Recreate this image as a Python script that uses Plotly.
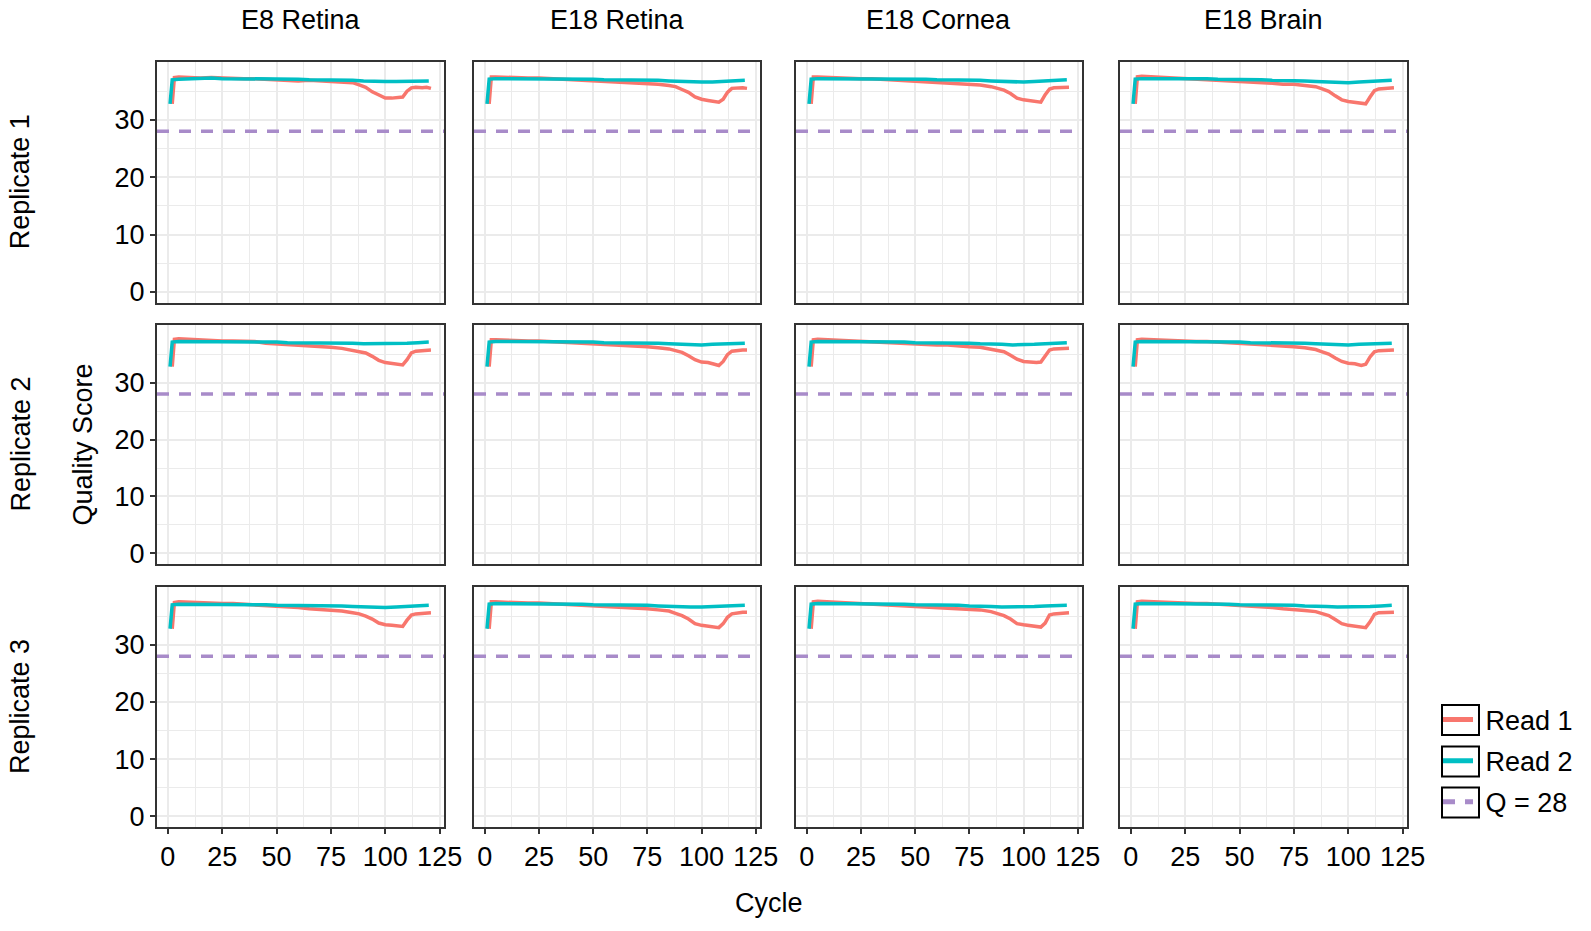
import plotly.graph_objects as go

# ---------------- data ----------------
COLUMNS = ["E8 Retina", "E18 Retina", "E18 Cornea", "E18 Brain"]
ROWS = ["Replicate 1", "Replicate 2", "Replicate 3"]
SERIES = ["Read 1", "Read 2", "Q = 28"]
Q_THRESHOLD = 28
X_TICKS = [0, 25, 50, 75, 100, 125]
Y_TICKS = [0, 10, 20, 30]

READ1_CYCLES = [2, 3, 5, 10, 15, 20, 25, 30, 35, 40, 45, 50, 55, 60, 65, 70, 75, 80,
                85, 88, 91, 94, 97, 100, 103, 106, 108, 110, 112, 114, 117, 119, 121]
READ2_CYCLES = [1, 2, 5, 10, 15, 20, 25, 30, 35, 40, 45, 50, 55, 60, 65, 70, 75, 80,
                85, 90, 95, 100, 105, 110, 115, 120]

# Replicate 1
R1_E8_RETINA_READ1 = [32.8, 37.4, 37.5, 37.4, 37.3, 37.4, 37.3, 37.3, 37.2, 37.2, 37.1, 37.1, 36.9, 36.8, 36.9, 36.8, 36.8,
                      36.6, 36.5, 36.1, 35.7, 34.9, 34.3, 33.8, 33.8, 33.9, 34.0, 35.0, 35.6, 35.7, 35.6, 35.7, 35.5]
R1_E18_RETINA_READ1 = [32.8, 37.5, 37.5, 37.4, 37.3, 37.3, 37.3, 37.2, 37.2, 37.1, 37.0, 36.9, 36.8, 36.7, 36.6, 36.5, 36.3,
                       36.2, 36.0, 35.8, 35.3, 34.8, 34.0, 33.6, 33.4, 33.3, 33.1, 33.6, 34.8, 35.5, 35.6, 35.6, 35.5]
R1_E18_CORNEA_READ1 = [32.8, 37.5, 37.5, 37.4, 37.3, 37.3, 37.2, 37.2, 37.1, 37.0, 36.9, 36.8, 36.7, 36.6, 36.5, 36.4, 36.3,
                       36.1, 35.8, 35.5, 35.2, 34.6, 33.8, 33.5, 33.4, 33.2, 33.1, 34.4, 35.4, 35.6, 35.6, 35.7, 35.7]
R1_E18_BRAIN_READ1 = [32.8, 37.5, 37.6, 37.5, 37.4, 37.3, 37.3, 37.2, 37.1, 37.0, 36.9, 36.8, 36.7, 36.6, 36.4, 36.2, 36.2,
                      36.0, 35.8, 35.4, 35.0, 34.2, 33.5, 33.2, 33.1, 32.9, 32.8, 34.0, 35.1, 35.4, 35.5, 35.5, 35.6]
R1_E8_RETINA_READ2 = [32.8, 37.0, 37.1, 37.2, 37.2, 37.3, 37.2, 37.2, 37.2, 37.2, 37.1, 37.1, 37.1, 37.1, 37.0, 37.0, 37.0,
                      37.0, 36.9, 36.8, 36.7, 36.7, 36.7, 36.7, 36.8, 36.8]
R1_E18_RETINA_READ2 = [32.8, 37.1, 37.2, 37.2, 37.2, 37.2, 37.2, 37.2, 37.2, 37.1, 37.1, 37.1, 37.0, 37.0, 37.0, 37.0, 36.9,
                       36.9, 36.8, 36.7, 36.6, 36.6, 36.6, 36.7, 36.8, 36.9]
R1_E18_CORNEA_READ2 = [32.8, 37.1, 37.2, 37.2, 37.2, 37.2, 37.2, 37.2, 37.2, 37.1, 37.1, 37.1, 37.1, 37.0, 37.0, 37.0, 36.9,
                       36.9, 36.8, 36.7, 36.6, 36.6, 36.7, 36.8, 36.9, 37.0]
R1_E18_BRAIN_READ2 = [32.8, 37.1, 37.2, 37.2, 37.2, 37.3, 37.2, 37.2, 37.2, 37.1, 37.1, 37.0, 37.0, 37.0, 36.9, 36.9, 36.8,
                      36.8, 36.7, 36.6, 36.5, 36.5, 36.6, 36.7, 36.8, 36.9]

# Replicate 2
R2_E8_RETINA_READ1 = [32.8, 37.6, 37.7, 37.6, 37.4, 37.4, 37.3, 37.3, 37.3, 37.2, 36.9, 36.8, 36.6, 36.5, 36.5, 36.4, 36.2,
                      36.0, 35.6, 35.4, 35.2, 34.6, 33.9, 33.5, 33.4, 33.3, 33.1, 34.0, 35.2, 35.5, 35.6, 35.7, 35.7]
R2_E18_RETINA_READ1 = [32.8, 37.5, 37.5, 37.4, 37.4, 37.3, 37.3, 37.2, 37.2, 37.1, 37.0, 36.9, 36.8, 36.7, 36.6, 36.4, 36.3,
                       36.1, 35.9, 35.6, 35.3, 34.7, 34.0, 33.6, 33.5, 33.2, 33.0, 33.7, 34.9, 35.5, 35.7, 35.7, 35.7]
R2_E18_CORNEA_READ1 = [32.8, 37.5, 37.6, 37.5, 37.4, 37.3, 37.3, 37.2, 37.1, 37.0, 36.9, 36.8, 36.7, 36.6, 36.6, 36.4, 36.3,
                       36.2, 35.9, 35.7, 35.4, 34.8, 34.1, 33.7, 33.6, 33.5, 33.6, 34.6, 35.7, 35.9, 35.9, 36.0, 36.0]
R2_E18_BRAIN_READ1 = [32.8, 37.5, 37.6, 37.5, 37.4, 37.4, 37.3, 37.2, 37.2, 37.1, 37.0, 36.9, 36.8, 36.6, 36.5, 36.4, 36.3,
                      36.1, 35.8, 35.4, 35.0, 34.3, 33.7, 33.4, 33.3, 33.0, 33.2, 34.5, 35.4, 35.6, 35.7, 35.7, 35.7]
R2_E8_RETINA_READ2 = [32.8, 37.1, 37.2, 37.2, 37.2, 37.2, 37.2, 37.2, 37.2, 37.1, 37.1, 37.1, 37.0, 37.0, 37.0, 37.0, 37.0,
                      36.9, 36.9, 36.8, 36.8, 36.8, 36.8, 36.9, 37.0, 37.1]
R2_E18_RETINA_READ2 = [32.8, 37.1, 37.2, 37.2, 37.2, 37.2, 37.2, 37.2, 37.2, 37.1, 37.1, 37.1, 37.0, 37.0, 37.0, 36.9, 36.9,
                       36.9, 36.8, 36.7, 36.7, 36.6, 36.7, 36.8, 36.8, 36.9]
R2_E18_CORNEA_READ2 = [32.8, 37.1, 37.2, 37.2, 37.2, 37.2, 37.2, 37.2, 37.1, 37.1, 37.1, 37.0, 37.0, 37.0, 36.9, 36.9, 36.9,
                       36.8, 36.8, 36.7, 36.6, 36.6, 36.7, 36.8, 36.9, 37.0]
R2_E18_BRAIN_READ2 = [32.8, 37.1, 37.2, 37.2, 37.2, 37.2, 37.2, 37.2, 37.2, 37.1, 37.1, 37.1, 37.0, 37.0, 37.0, 36.9, 36.9,
                      36.9, 36.8, 36.7, 36.6, 36.6, 36.7, 36.8, 36.9, 36.9]

# Replicate 3
R3_E8_RETINA_READ1 = [32.8, 37.4, 37.5, 37.4, 37.3, 37.3, 37.2, 37.2, 37.1, 37.0, 36.9, 36.7, 36.6, 36.5, 36.3, 36.2, 36.1,
                      35.9, 35.6, 35.4, 35.0, 34.5, 33.8, 33.5, 33.4, 33.2, 33.2, 34.3, 35.2, 35.4, 35.5, 35.5, 35.6]
R3_E18_RETINA_READ1 = [32.8, 37.5, 37.5, 37.4, 37.3, 37.3, 37.3, 37.2, 37.1, 37.1, 37.0, 36.9, 36.8, 36.6, 36.5, 36.4, 36.3,
                       36.1, 35.9, 35.5, 35.1, 34.5, 33.7, 33.4, 33.3, 33.1, 33.0, 33.7, 34.8, 35.4, 35.6, 35.7, 35.7]
R3_E18_CORNEA_READ1 = [32.8, 37.5, 37.6, 37.5, 37.4, 37.3, 37.3, 37.2, 37.1, 37.0, 36.9, 36.8, 36.7, 36.6, 36.5, 36.4, 36.2,
                       36.1, 35.8, 35.5, 35.1, 34.5, 33.7, 33.5, 33.4, 33.2, 33.1, 33.8, 35.2, 35.4, 35.5, 35.6, 35.6]
R3_E18_BRAIN_READ1 = [32.8, 37.5, 37.6, 37.5, 37.4, 37.4, 37.3, 37.2, 37.2, 37.1, 37.0, 36.9, 36.8, 36.6, 36.5, 36.3, 36.2,
                      36.0, 35.8, 35.5, 35.1, 34.4, 33.7, 33.4, 33.3, 33.1, 33.0, 34.0, 35.3, 35.6, 35.7, 35.7, 35.7]
R3_E8_RETINA_READ2 = [32.8, 37.0, 37.1, 37.1, 37.1, 37.1, 37.1, 37.0, 37.0, 37.0, 37.0, 36.9, 36.9, 36.9, 36.9, 36.9, 36.8,
                      36.8, 36.7, 36.6, 36.5, 36.5, 36.6, 36.7, 36.8, 36.9]
R3_E18_RETINA_READ2 = [32.8, 37.1, 37.2, 37.2, 37.2, 37.2, 37.2, 37.1, 37.1, 37.1, 37.1, 37.0, 37.0, 37.0, 36.9, 36.9, 36.9,
                       36.8, 36.7, 36.7, 36.6, 36.6, 36.7, 36.7, 36.8, 36.9]
R3_E18_CORNEA_READ2 = [32.8, 37.1, 37.2, 37.2, 37.2, 37.2, 37.2, 37.2, 37.1, 37.1, 37.1, 37.0, 37.0, 37.0, 36.9, 36.9, 36.8,
                       36.8, 36.7, 36.6, 36.6, 36.6, 36.7, 36.8, 36.8, 36.9]
R3_E18_BRAIN_READ2 = [32.8, 37.1, 37.2, 37.2, 37.2, 37.2, 37.2, 37.2, 37.1, 37.1, 37.1, 37.0, 37.0, 37.0, 36.9, 36.9, 36.9,
                      36.8, 36.8, 36.7, 36.6, 36.6, 36.7, 36.7, 36.8, 36.9]

READ1 = [
    [R1_E8_RETINA_READ1, R1_E18_RETINA_READ1, R1_E18_CORNEA_READ1, R1_E18_BRAIN_READ1],
    [R2_E8_RETINA_READ1, R2_E18_RETINA_READ1, R2_E18_CORNEA_READ1, R2_E18_BRAIN_READ1],
    [R3_E8_RETINA_READ1, R3_E18_RETINA_READ1, R3_E18_CORNEA_READ1, R3_E18_BRAIN_READ1],
]
READ2 = [
    [R1_E8_RETINA_READ2, R1_E18_RETINA_READ2, R1_E18_CORNEA_READ2, R1_E18_BRAIN_READ2],
    [R2_E8_RETINA_READ2, R2_E18_RETINA_READ2, R2_E18_CORNEA_READ2, R2_E18_BRAIN_READ2],
    [R3_E8_RETINA_READ2, R3_E18_RETINA_READ2, R3_E18_CORNEA_READ2, R3_E18_BRAIN_READ2],
]

# ---------------- styling / layout ----------------
W, H = 1591, 931
FONT = "Liberation Sans, Arial, Helvetica, sans-serif"
RED, TEAL, PURPLE = "#F8766D", "#00BFC4", "#A88BC9"
DARK = "#333333"
GRID = "#EBEBEB"
LW = 3.5
COL_PX = [(157, 444), (474, 760), (796, 1082), (1120, 1407)]
ROW_PX = [(62, 302.5), (325, 564), (587, 827)]
X_RANGE = [-5, 127]
Y_RANGE = [-1.85, 40.1]
NBSP = "\u00a0"

fig = go.Figure()
layout = dict(width=W, height=H, autosize=False,
              margin=dict(l=0, r=0, t=0, b=0, pad=0, autoexpand=False),
              paper_bgcolor="white", plot_bgcolor="white",
              font=dict(family=FONT, size=27, color="black"))
shapes = []
annotations = []

for r in range(3):
    for c in range(4):
        k = r * 4 + c + 1
        xs = "" if k == 1 else str(k)
        fig.add_trace(go.Scatter(x=READ1_CYCLES, y=READ1[r][c], mode="lines", name=NBSP + SERIES[0],
                                 legendgroup="r1", showlegend=(k == 1),
                                 line=dict(color=RED, width=LW), xaxis="x" + xs, yaxis="y" + xs))
        fig.add_trace(go.Scatter(x=READ2_CYCLES, y=READ2[r][c], mode="lines", name=NBSP + SERIES[1],
                                 legendgroup="r2", showlegend=(k == 1),
                                 line=dict(color=TEAL, width=LW), xaxis="x" + xs, yaxis="y" + xs))
        shapes.append(dict(type="line", xref="x" + xs + " domain", yref="y" + xs,
                           x0=0, x1=1, y0=Q_THRESHOLD, y1=Q_THRESHOLD,
                           line=dict(color=PURPLE, width=LW, dash="12px,10px"), layer="above"))
        x0, x1 = COL_PX[c]
        yt, yb = ROW_PX[r]
        bottom = (r == 2)
        left = (c == 0)
        layout["xaxis" + xs] = dict(
            domain=[x0 / W, x1 / W], anchor="y" + xs, range=X_RANGE,
            tickvals=X_TICKS, showticklabels=bottom,
            ticks="outside" if bottom else "", ticklen=5, tickwidth=2, tickcolor=DARK,
            showline=True, mirror=True, linecolor=DARK, linewidth=2,
            showgrid=True, gridcolor=GRID, gridwidth=1.6, zeroline=False,
            minor=dict(dtick=12.5, tick0=0, showgrid=True, gridcolor=GRID, gridwidth=0.8),
            tickfont=dict(size=27, color="black"),
        )
        layout["yaxis" + xs] = dict(
            domain=[1 - yb / H, 1 - yt / H], anchor="x" + xs, range=Y_RANGE,
            tickvals=Y_TICKS, showticklabels=left,
            ticks="outside" if left else "", ticklen=5, tickwidth=2, tickcolor=DARK,
            showline=True, mirror=True, linecolor=DARK, linewidth=2,
            showgrid=True, gridcolor=GRID, gridwidth=1.6, zeroline=False,
            minor=dict(dtick=5, tick0=0, showgrid=True, gridcolor=GRID, gridwidth=0.8),
            tickfont=dict(size=27, color="black"),
        )

# legend-only entry for the threshold line
fig.add_trace(go.Scatter(x=[None], y=[None], mode="lines", name=NBSP + SERIES[2], legendgroup="q",
                         line=dict(color=PURPLE, width=LW, dash="12px,10px")))

for c, name in enumerate(COLUMNS):
    annotations.append(dict(text=name, x=(COL_PX[c][0] + COL_PX[c][1]) / 2 / W, y=1 - 20 / H,
                            xref="paper", yref="paper", showarrow=False,
                            xanchor="center", yanchor="middle", font=dict(size=27)))
for r, name in enumerate(ROWS):
    annotations.append(dict(text=name, x=20 / W, y=1 - (ROW_PX[r][0] + ROW_PX[r][1]) / 2 / H,
                            xref="paper", yref="paper", showarrow=False, textangle=-90,
                            xanchor="center", yanchor="middle", font=dict(size=27)))
annotations.append(dict(text="Quality Score", x=82 / W, y=1 - 444.5 / H, xref="paper", yref="paper",
                        showarrow=False, textangle=-90, xanchor="center", yanchor="middle",
                        font=dict(size=27)))
annotations.append(dict(text="Cycle", x=769 / W, y=1 - 903 / H, xref="paper", yref="paper",
                        showarrow=False, xanchor="center", yanchor="middle", font=dict(size=27)))

# boxes around legend keys (ggplot-style key borders)
for yc in [720, 761.5, 802.5]:
    shapes.append(dict(type="rect", xref="paper", yref="paper",
                       x0=1442 / W, x1=1479 / W, y0=1 - (yc + 15) / H, y1=1 - (yc - 15) / H,
                       line=dict(color="black", width=2), fillcolor="rgba(0,0,0,0)"))

layout["shapes"] = shapes
layout["annotations"] = annotations
layout["legend"] = dict(x=1438 / W, y=1 - 695.5 / H, xanchor="left", yanchor="top",
                        font=dict(size=27, color="black"), bgcolor="rgba(0,0,0,0)",
                        traceorder="grouped", tracegroupgap=3, itemsizing="constant")
fig.update_layout(**layout)

fig.write_html(
    "out.html",
    config={"displayModeBar": False, "responsive": False},
    default_width="1591px", default_height="931px",
    post_script="document.documentElement.style.overflow='hidden';"
                "document.body.style.margin='0';document.body.style.overflow='hidden';",
)
